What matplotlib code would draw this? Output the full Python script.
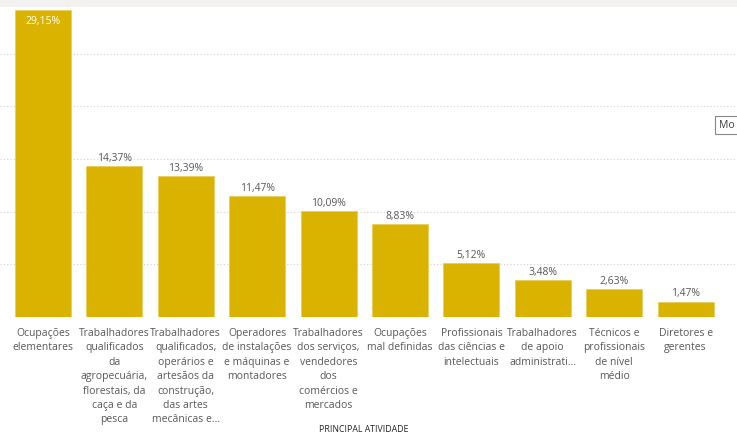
import matplotlib
matplotlib.use("Agg")
import matplotlib.pyplot as plt
from matplotlib.patches import Rectangle

plt.rcParams['font.family'] = ['Open Sans', 'DejaVu Sans']

categories = [
    "Ocupações\nelementares",
    "Trabalhadores\nqualificados\nda\nagropecuária,\nflorestais, da\ncaça e da\npesca",
    "Trabalhadores\nqualificados,\noperários e\nartesãos da\nconstrução,\ndas artes\nmecânicas e...",
    "Operadores\nde instalações\ne máquinas e\nmontadores",
    "Trabalhadores\ndos serviços,\nvendedores\ndos\ncomércios e\nmercados",
    "Ocupações\nmal definidas",
    "Profissionais\ndas ciências e\nintelectuais",
    "Trabalhadores\nde apoio\nadministrati...",
    "Técnicos e\nprofissionais\nde nível\nmédio",
    "Diretores e\ngerentes",
]
values = [29.15, 14.37, 13.39, 11.47, 10.09, 8.83, 5.12, 3.48, 2.63, 1.47]

bar_color = "#DAB300"
text_gray = "#5A5856"

fig = plt.figure(figsize=(7.37, 4.34), dpi=100)
fig.patch.set_facecolor("white")

# light gray strip along the top edge
fig.patches.append(Rectangle((0, 1 - 7 / 434), 1, 7 / 434, transform=fig.transFigure,
                             facecolor="#F3F2F1", edgecolor="none", zorder=0))

ax = fig.add_axes([0, (434 - 317) / 434, 1, (317 - 7) / 434])
x = list(range(len(values)))
ax.bar(x, values, width=0.785, color=bar_color, edgecolor="#E8CC55", linewidth=0.5, zorder=3)

ax.set_xlim(-0.602, 9.72)
ax.set_ylim(0, 29.44)
ax.set_yticks([0, 5, 10, 15, 20, 25])
ax.yaxis.grid(True, linestyle=(0, (1, 2)), color="#D0D0D0", linewidth=0.8, zorder=0)
for s in ax.spines.values():
    s.set_visible(False)
ax.tick_params(axis="y", left=False, labelleft=False)
ax.tick_params(axis="x", length=0, pad=8)
ax.set_xticks(x)
ax.set_xticklabels(categories, fontsize=7.5, color=text_gray, linespacing=1.42, va="top")

for i, v in enumerate(values):
    label = f"{v:.2f}".replace(".", ",") + "%"
    if i == 0:
        ax.annotate(label, (i, v), xytext=(0, -4), textcoords="offset points",
                    ha="center", va="top", fontsize=7.5, color="white", zorder=4)
    else:
        ax.annotate(label, (i, v), xytext=(0, 1.5), textcoords="offset points",
                    ha="center", va="bottom", fontsize=7.5, color=text_gray, zorder=4)

fig.text(364 / 737, 1 - 429 / 434, "PRINCIPAL ATIVIDADE", ha="center", va="center",
         fontsize=6.3, color="#252423")

# tooltip box at the right edge
fig.text(719 / 737, 1 - 125 / 434, "Mo", ha="left", va="center", fontsize=7.5,
         color="#404040",
         bbox=dict(boxstyle="square,pad=0.35", facecolor="white", edgecolor="#8A8886", linewidth=0.8))

fig.savefig("out.png", dpi=100)
